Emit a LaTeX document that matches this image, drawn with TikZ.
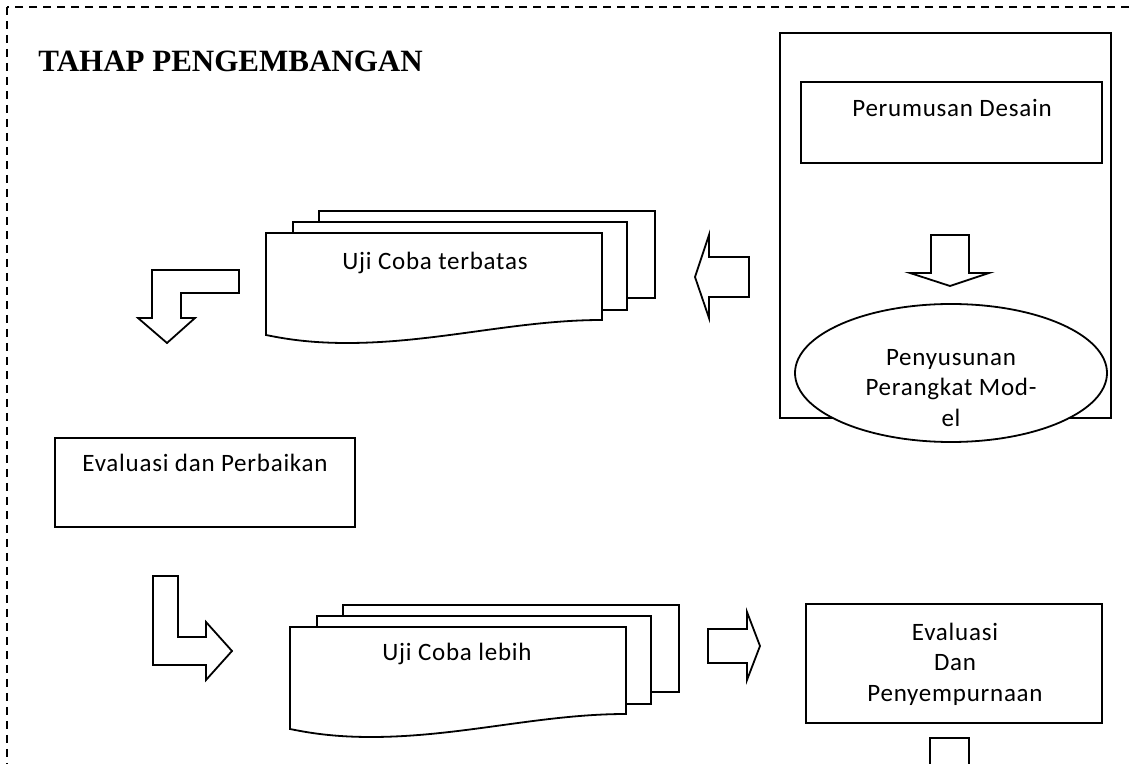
\documentclass[tikz,border=0pt]{standalone}
\usepackage{fontspec}
\setmainfont{Carlito}[LetterSpace=3]
\newfontfamily\titlefont{Liberation Serif}
\usetikzlibrary{shapes,positioning}

\tikzset{
    docpage/.style={draw, fill=white, line width=0.9pt},
    docstack/.pic={
        \draw[docpage] (53,-22) rectangle ++(336,87);
        \draw[docpage] (27,-11) rectangle ++(334,88);
        \draw[docpage] (0,0) -- (336,0) -- (336,87)
            .. controls (250,87) and (170,110) .. (81,110)
            .. controls (40,110) and (15,105) .. (0,102) -- cycle;
    }
}

\begin{document}
\begin{tikzpicture}[
    x=0.5pt, y=-0.5pt,
    box/.style={draw, fill=white, line width=0.9pt, inner sep=0pt},
    txt/.style={font=\fontsize{12.5}{15.3}\selectfont, align=center, inner sep=0pt},
    blockarrow/.style={draw, fill=white, line width=0.9pt, line join=miter},
    frame/.style={draw, dash pattern=on 4pt off 3pt, line width=0.7pt}
]
    \path[use as bounding box, clip] (0,0) rectangle (1131,764);
    \draw[frame] (7,7) rectangle (1150,790);

    \node (title) [anchor=base west, inner sep=0pt, font=\titlefont\bfseries\fontsize{15.5}{18}\selectfont] at (38,72) {TAHAP PENGEMBANGAN};

    % desain
    \node (desain) [box, minimum width=165.5pt, minimum height=192.5pt] at (945.5,225.5) {};
    \node (perumusan) [box, minimum width=150.5pt, minimum height=40.5pt] at (951.5,122.5) {};
    \node (perumusantxt) [txt, anchor=base] at (952,117) {Perumusan Desain};
    \draw[blockarrow] (931,235) -- (969,235) -- (969,273) -- (989,273) -- (950,286)
        -- (910,273) -- (931,273) -- cycle;
    \node (penyusunan) [draw, ellipse, fill=white, line width=0.9pt, minimum width=156pt, minimum height=69pt] at (951,373) {};
    \node (penyusunantxt) [txt] at (951,388) {Penyusunan\\Perangkat Mod-\\el};

    % uji coba terbatas
    \draw[blockarrow] (749,257) -- (709,257) -- (709,235) -- (695,277) -- (709,318)
        -- (709,297) -- (749,297) -- cycle;
    \pic (terbatas) at (266,233) {docstack};
    \node (terbatastxt) [txt, anchor=base] at (435,270) {Uji Coba terbatas};
    \draw[blockarrow] (239,270) -- (152,270) -- (152,318) -- (138,318) -- (167,343)
        -- (195,318) -- (181,318) -- (181,293) -- (239,293) -- cycle;

    % evaluasi dan perbaikan
    \node (perbaikan) [box, minimum width=150pt, minimum height=44.5pt] at (205,482.5) {};
    \node (perbaikantxt) [txt, anchor=base] at (205,472) {Evaluasi dan Perbaikan};

    % uji coba lebih
    \draw[blockarrow] (153,576) -- (178,576) -- (178,637) -- (206,637) -- (206,622)
        -- (232,651) -- (206,680) -- (206,665) -- (153,665) -- cycle;
    \pic (lebih) at (290,627) {docstack};
    \node (lebihtxt) [txt, anchor=base] at (457,661) {Uji Coba lebih};
    \draw[blockarrow] (708,629) -- (747,629) -- (747,612) -- (760,646) -- (747,680)
        -- (747,663) -- (708,663) -- cycle;

    % evaluasi dan penyempurnaan
    \node (penyempurnaan) [box, minimum width=148pt, minimum height=59.5pt] at (954,663.5) {};
    \node (penyempurnaantxt) [txt] at (955,664) {Evaluasi\\Dan\\Penyempurnaan};
    \draw[blockarrow] (930,800) -- (930,738) -- (969,738) -- (969,800);
\end{tikzpicture}
\end{document}
